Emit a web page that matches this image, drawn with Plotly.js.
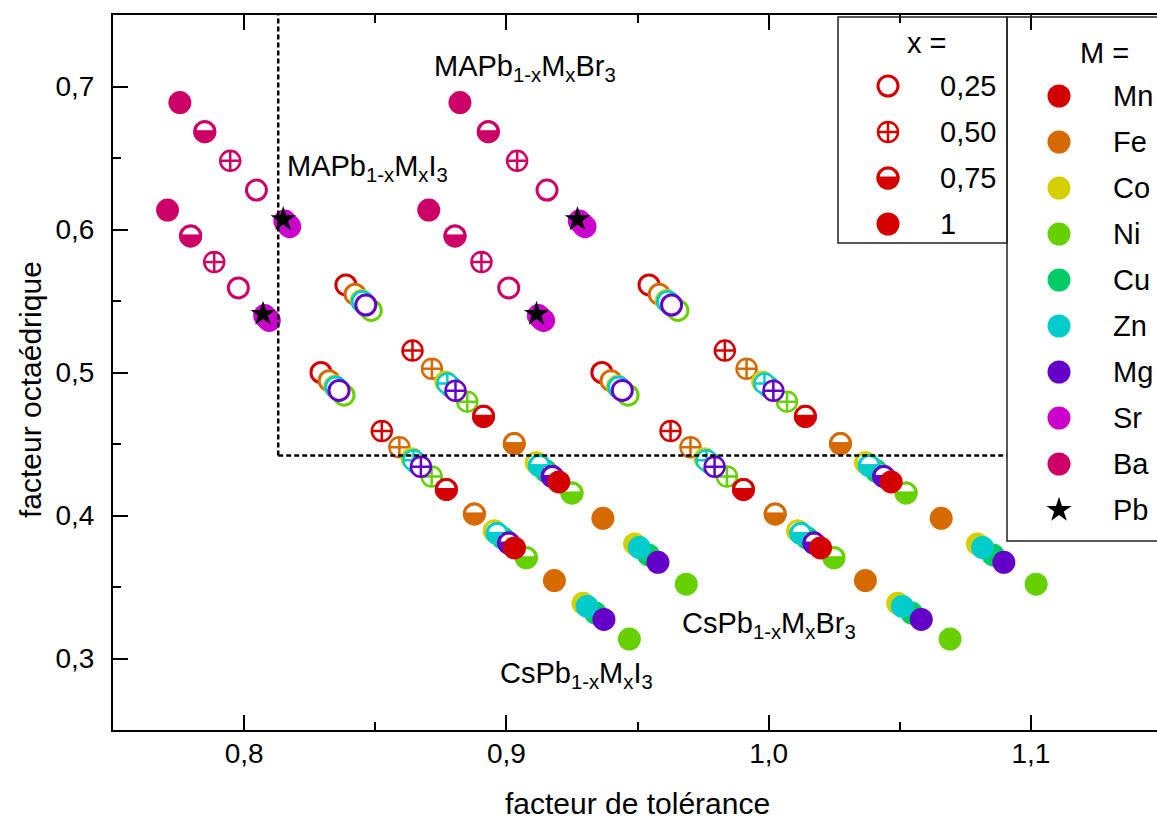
<!DOCTYPE html>
<html>
<head>
<meta charset="utf-8">
<script src="https://cdn.plot.ly/plotly-3.0.1.min.js"></script>
<style>
html,body{margin:0;padding:0;overflow:hidden;background:#fff;}
#chart{width:1165px;height:821px;}
</style>
</head>
<body>
<div id="chart"></div>
<script>
// ---------------- DATA ----------------
const metals = ['Mn','Fe','Co','Ni','Cu','Zn','Mg','Sr','Ba'];
const metalColors = ['#d40000','#d46a00','#d4d000','#66d000','#00cc66','#00cccc','#6400c8','#cc00cc','#cc0066'];
const fractions = [0.25, 0.5, 0.75, 1];
const fractionLabels = ['0,25','0,50','0,75','1'];
const compoundLabels = ['CsPb<sub>1-x</sub>M<sub>x</sub>I<sub>3</sub>','CsPb<sub>1-x</sub>M<sub>x</sub>Br<sub>3</sub>',
                        'MAPb<sub>1-x</sub>M<sub>x</sub>I<sub>3</sub>','MAPb<sub>1-x</sub>M<sub>x</sub>Br<sub>3</sub>'];

// rows = x (0.25, 0.50, 0.75, 1), columns = metals
const CsPbI3_t = [
  [0.8293,0.8324,0.8346,0.8381,0.8356,0.8349,0.8362,0.8078,0.7978],
  [0.8525,0.8592,0.8639,0.8715,0.8660,0.8646,0.8674,0.8084,0.7886],
  [0.8771,0.8878,0.8954,0.9076,0.8987,0.8965,0.9009,0.8090,0.7796],
  [0.9031,0.9183,0.9292,0.9469,0.9340,0.9308,0.9372,0.8096,0.7708]];
const CsPbI3_mu = [
  [0.5000,0.4943,0.4903,0.4841,0.4886,0.4898,0.4875,0.5398,0.5591],
  [0.4591,0.4477,0.4398,0.4273,0.4364,0.4386,0.4341,0.5386,0.5773],
  [0.4182,0.4011,0.3892,0.3705,0.3841,0.3875,0.3807,0.5375,0.5955],
  [0.3773,0.3545,0.3386,0.3136,0.3318,0.3364,0.3273,0.5364,0.6136]];
const CsPbBr3_t = [
  [0.8388,0.8423,0.8447,0.8485,0.8457,0.8450,0.8464,0.8155,0.8047],
  [0.8642,0.8716,0.8768,0.8851,0.8790,0.8775,0.8806,0.8162,0.7947],
  [0.8913,0.9030,0.9114,0.9250,0.9151,0.9126,0.9175,0.8168,0.7850],
  [0.9200,0.9368,0.9489,0.9686,0.9542,0.9507,0.9578,0.8174,0.7755]];
const CsPbBr3_mu = [
  [0.5612,0.5548,0.5504,0.5434,0.5485,0.5497,0.5472,0.6059,0.6276],
  [0.5153,0.5026,0.4936,0.4796,0.4898,0.4923,0.4872,0.6046,0.6480],
  [0.4694,0.4503,0.4369,0.4158,0.4311,0.4349,0.4273,0.6033,0.6684],
  [0.4235,0.3980,0.3801,0.3520,0.3724,0.3776,0.3673,0.6020,0.6888]];
const MAPbI3_t = [
  [0.9364,0.9399,0.9424,0.9464,0.9435,0.9428,0.9442,0.9122,0.9009],
  [0.9626,0.9702,0.9756,0.9841,0.9779,0.9763,0.9794,0.9129,0.8905],
  [0.9904,1.0025,1.0111,1.0249,1.0148,1.0123,1.0173,0.9135,0.8804],
  [1.0198,1.0369,1.0492,1.0692,1.0546,1.0510,1.0582,0.9142,0.8704]];
const MAPbI3_mu = [
  [0.5000,0.4943,0.4903,0.4841,0.4886,0.4898,0.4875,0.5398,0.5591],
  [0.4591,0.4477,0.4398,0.4273,0.4364,0.4386,0.4341,0.5386,0.5773],
  [0.4182,0.4011,0.3892,0.3705,0.3841,0.3875,0.3807,0.5375,0.5955],
  [0.3773,0.3545,0.3386,0.3136,0.3318,0.3364,0.3273,0.5364,0.6136]];
const MAPbBr3_t = [
  [0.9544,0.9583,0.9610,0.9654,0.9622,0.9614,0.9630,0.9278,0.9155],
  [0.9833,0.9916,0.9976,1.0070,1.0001,0.9984,1.0018,0.9286,0.9041],
  [1.0140,1.0274,1.0370,1.0524,1.0411,1.0384,1.0439,0.9293,0.8931],
  [1.0467,1.0658,1.0796,1.1020,1.0856,1.0816,1.0897,0.9300,0.8823]];
const MAPbBr3_mu = [
  [0.5612,0.5548,0.5504,0.5434,0.5485,0.5497,0.5472,0.6059,0.6276],
  [0.5153,0.5026,0.4936,0.4796,0.4898,0.4923,0.4872,0.6046,0.6480],
  [0.4694,0.4503,0.4369,0.4158,0.4311,0.4349,0.4273,0.6033,0.6684],
  [0.4235,0.3980,0.3801,0.3520,0.3724,0.3776,0.3673,0.6020,0.6888]];

const pbName = 'Pb';
const pb_t  = [0.8072, 0.8149, 0.9115, 0.9271];
const pb_mu = [0.5409, 0.6071, 0.5409, 0.6071];

const limitT = 0.813;   // dashed limit, tolerance factor
const limitMu = 0.442;  // dashed limit, octahedral factor

const xTitle = 'facteur de tolérance';
const yTitle = 'facteur octaédrique';

// ---------------- LAYOUT GEOMETRY ----------------
const W = 1165, H = 821, ML = 113, MR = 3, MT = 15, MB = 91;
const PR = W - MR, PB = H - MB;          // plot right / bottom in px
const FONT = '"Liberation Sans", Arial, sans-serif';
const px2pX = px => (px - ML) / (W - ML - MR);
const px2pY = py => (PB - py) / (H - MT - MB);

const DISC = 23, RING = 20, RINGW = 3;
const CAP = {size: 11.86, width: 7.3, shift: 5.15};

const allT = [CsPbI3_t, CsPbBr3_t, MAPbI3_t, MAPbBr3_t];
const allMu = [CsPbI3_mu, CsPbBr3_mu, MAPbI3_mu, MAPbBr3_mu];

function collect(fi) {
  const x = [], y = [], c = [];
  for (let k = 0; k < allT.length; k++) {
    for (let m = 0; m < metals.length; m++) {
      x.push(allT[k][fi][m]); y.push(allMu[k][fi][m]); c.push(metalColors[m]);
    }
  }
  return {x, y, c};
}

const traces = [];
const base = {type: 'scatter', mode: 'markers', hoverinfo: 'skip', showlegend: false};

function ringTrace(x, y, c, ax) {
  return Object.assign({}, base, ax, {x, y,
    marker: {symbol: 'circle', size: RING, color: 'white', line: {color: c, width: RINGW}}});
}
function crossTrace(x, y, c, ax) {
  return Object.assign({}, base, ax, {x, y,
    marker: {symbol: 'circle-cross', size: RING, color: 'white', line: {color: c, width: RINGW - 0.5}}});
}
function discTrace(x, y, c, ax) {
  return Object.assign({}, base, ax, {x, y,
    marker: {symbol: 'circle', size: DISC, color: c, line: {width: 0}}});
}
function halfTraces(x, y, c, ax) {
  return [
    discTrace(x, y, c, ax),
    Object.assign({}, base, ax, {x, y,
      marker: {symbol: 'line-ew', size: CAP.size, color: 'white', angle: 180, standoff: CAP.shift,
               line: {color: 'white', width: CAP.width}}}),
    Object.assign({}, base, ax, {x, y,
      marker: {symbol: 'circle', size: RING, color: 'rgba(0,0,0,0)', line: {color: c, width: RINGW}}})
  ];
}

// x = 0.25
let d = collect(0); traces.push(ringTrace(d.x, d.y, d.c, {}));
// x = 0.50
d = collect(1); traces.push(crossTrace(d.x, d.y, d.c, {}));
// x = 0.75 (point by point to keep stacking)
d = collect(2);
for (let i = 0; i < d.x.length; i++) traces.push(...halfTraces([d.x[i]], [d.y[i]], d.c[i], {}));
// x = 1
d = collect(3); traces.push(discTrace(d.x, d.y, d.c, {}));
// Pb
traces.push(Object.assign({}, base, {x: pb_t, y: pb_mu,
  marker: {symbol: 'star', size: 19, color: 'black', line: {width: 0}}}));

// ---------------- LEGENDS (drawn on pixel overlay axes) ----------------
const LA = {xaxis: 'x2', yaxis: 'y2'};
const leg1 = {x0: 838, x1: 1007, y0: 17, y1: 243, mx: 888, tx: 938, ty0: 86, dy: 46, titleX: 927, titleY: 43};
const leg2 = {x0: 1007, x1: 1180, y0: 17, y1: 541, mx: 1059, tx: 1111, ty0: 96, dy: 46, titleX: 1104, titleY: 53};
const annotations = [];
const legFont = {family: FONT, size: 29, color: 'black'};

const legColor = metalColors[0];
fractionLabels.forEach((lab, i) => {
  const yy = [leg1.ty0 + i * leg1.dy], xx = [leg1.mx];
  if (i === 0) traces.push(ringTrace(xx, yy, legColor, LA));
  else if (i === 1) traces.push(crossTrace(xx, yy, legColor, LA));
  else if (i === 2) traces.push(...halfTraces(xx, yy, legColor, LA));
  else traces.push(discTrace(xx, yy, legColor, LA));
  annotations.push({xref: 'paper', yref: 'paper', x: px2pX(leg1.tx), y: px2pY(yy[0]), text: lab,
    showarrow: false, xanchor: 'left', yanchor: 'middle', font: legFont});
});
annotations.push({xref: 'paper', yref: 'paper', x: px2pX(leg1.titleX), y: px2pY(leg1.titleY), text: 'x =',
  showarrow: false, xanchor: 'center', yanchor: 'middle', font: legFont});

metals.concat([pbName]).forEach((lab, i) => {
  const yy = [leg2.ty0 + i * leg2.dy], xx = [leg2.mx];
  if (i < metals.length) traces.push(discTrace(xx, yy, metalColors[i], LA));
  else traces.push(Object.assign({}, base, LA, {x: xx, y: yy,
    marker: {symbol: 'star', size: 19, color: 'black', line: {width: 0}}}));
  annotations.push({xref: 'paper', yref: 'paper', x: px2pX(leg2.tx), y: px2pY(yy[0]), text: lab,
    showarrow: false, xanchor: 'left', yanchor: 'middle', font: legFont});
});
annotations.push({xref: 'paper', yref: 'paper', x: px2pX(leg2.titleX), y: px2pY(leg2.titleY), text: 'M =',
  showarrow: false, xanchor: 'center', yanchor: 'middle', font: legFont});

// compound labels
const labelPos = [[498, 675], [680, 625], [285, 168], [432, 68]];
compoundLabels.forEach((lab, i) => {
  annotations.push({xref: 'paper', yref: 'paper', x: px2pX(labelPos[i][0]), y: px2pY(labelPos[i][1]),
    text: lab, showarrow: false, xanchor: 'left', yanchor: 'middle', font: legFont});
});

// axis titles
annotations.push({xref: 'paper', yref: 'paper', x: 0.5, y: px2pY(804), text: xTitle, showarrow: false,
  xanchor: 'center', yanchor: 'middle', font: {family: FONT, size: 30, color: 'black'}});
annotations.push({xref: 'paper', yref: 'paper', x: px2pX(30), y: px2pY(390), text: yTitle, showarrow: false,
  textangle: -90, xanchor: 'center', yanchor: 'middle', font: {family: FONT, size: 30, color: 'black'}});

const boxEdgeT = 0.75 + (leg2.x0 - ML) / (W - ML - MR) * 0.4;
const shapes = [
  {type: 'line', xref: 'x', yref: 'y', x0: limitT, x1: limitT, y0: limitMu, y1: 0.75,
   line: {color: 'black', width: 2.5, dash: '5px,3px'}, layer: 'above'},
  {type: 'line', xref: 'x', yref: 'y', x0: limitT, x1: boxEdgeT, y0: limitMu, y1: limitMu,
   line: {color: 'black', width: 2.5, dash: '5px,3px'}, layer: 'above'},
  {type: 'rect', xref: 'paper', yref: 'paper', x0: px2pX(leg1.x0), x1: px2pX(leg1.x1), y0: px2pY(leg1.y1), y1: px2pY(leg1.y0),
   line: {color: '#222', width: 1.5}, fillcolor: 'rgba(0,0,0,0)', layer: 'above'},
  {type: 'rect', xref: 'paper', yref: 'paper', x0: px2pX(leg2.x0), x1: px2pX(leg2.x1), y0: px2pY(leg2.y1), y1: px2pY(leg2.y0),
   line: {color: '#222', width: 1.5}, fillcolor: 'rgba(0,0,0,0)', layer: 'above'}
];

const axisCommon = {
  ticks: 'inside', ticklen: 15, tickwidth: 2, tickcolor: 'black',
  showline: true, linewidth: 2, linecolor: 'black',
  showgrid: false, zeroline: false, tickformat: '.1f',
  tickfont: {family: FONT, size: 28, color: 'black'},
  minor: {dtick: 0.05, ticks: 'inside', ticklen: 8, tickwidth: 2, tickcolor: 'black', showgrid: false},
  fixedrange: true
};

const layout = {
  width: W, height: H,
  margin: {l: ML, r: MR, t: MT, b: MB},
  paper_bgcolor: 'white', plot_bgcolor: 'white',
  separators: ', ',
  showlegend: false,
  font: {family: FONT, color: 'black'},
  xaxis: Object.assign({}, axisCommon, {range: [0.75, 1.15], tick0: 0.8, dtick: 0.1, mirror: 'allticks', ticklabelstandoff: -3}),
  yaxis: Object.assign({}, axisCommon, {range: [0.25, 0.75], tick0: 0.3, dtick: 0.1, mirror: false, ticklabelstandoff: 11}),
  xaxis2: {overlaying: 'x', range: [ML, PR], visible: false, fixedrange: true},
  yaxis2: {overlaying: 'y', range: [PB, MT], visible: false, fixedrange: true},
  shapes: shapes,
  annotations: annotations
};

Plotly.newPlot('chart', traces, layout, {staticPlot: true, displayModeBar: false});
</script>
</body>
</html>
